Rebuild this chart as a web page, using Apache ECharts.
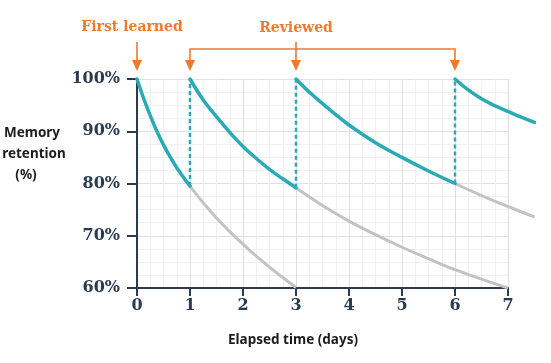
<!DOCTYPE html>
<html><head><meta charset="utf-8">
<script src="https://cdn.jsdelivr.net/npm/echarts@6/dist/echarts.min.js"></script>
<style>html,body{margin:0;padding:0;background:#fff}#c{width:551px;height:363px}</style>
</head><body><div id="c"></div>
<script>
// ---- data ----
const xTicks = [0,1,2,3,4,5,6,7];
const yTicks = [60,70,80,90,100];
const xDataMax = 7.5; // curves run a little past the last tick
// teal retention curves (after learning / each review)
const tealT1 = [0,0.125,0.25,0.375,0.5,0.625,0.75,0.875,1];
const tealV1 = [100,96.3,93.0,90.0,87.4,85.1,83.0,81.2,79.5];
const tealT2 = [1,1.25,1.5,1.75,2,2.25,2.5,2.75,3];
const tealV2 = [100,96.0,92.8,89.8,87.1,84.8,82.7,80.9,79.2];
const tealT3 = [3,3.25,3.5,3.75,4,4.5,5,5.5,6];
const tealV3 = [100,97.5,95.3,93.2,91.2,87.8,85.0,82.4,80.0];
const tealT4 = [6,6.25,6.5,6.75,7,7.25,7.5];
const tealV4 = [100,97.9,96.2,94.9,93.8,92.7,91.7];
// gray curves (forgetting without review)
const grayT1 = [1,1.25,1.5,1.75,2,2.25,2.5,2.75,3];
const grayV1 = [79.5,76.3,73.4,70.8,68.4,66.1,64.0,62.0,60.1];
const grayT2 = [3,3.5,4,4.5,5,5.5,6,6.5,7];
const grayV2 = [79.2,75.8,72.8,70.2,67.8,65.6,63.5,61.7,60.0];
const grayT3 = [6,6.5,7,7.5];
const grayV3 = [80.0,77.7,75.6,73.6];
const firstLearnedDay = 0;
const reviewDays = [1,3,6];

const zip = (t, v) => t.map((x, i) => [x, v[i]]);
const TEAL = '#2aaab5', GRAY = '#c3c3c3', NAVY = '#2b3a4f', ORANGE = '#ef7a2b';

const tealSets = [zip(tealT1,tealV1), zip(tealT2,tealV2), zip(tealT3,tealV3), zip(tealT4,tealV4)];
const graySets = [zip(grayT1,grayV1), zip(grayT2,grayV2), zip(grayT3,grayV3)];

const common = {type:'line', xAxisIndex:1, yAxisIndex:1, symbol:'none', clip:false, silent:true};
const series = [];
graySets.forEach(d => series.push(Object.assign({}, common, {data:d, smooth:0.4, z:2,
  lineStyle:{color:GRAY, width:3}})));
tealSets.forEach(d => series.push(Object.assign({}, common, {data:d, smooth:0.4, z:4,
  lineStyle:{color:TEAL, width:3.5, cap:'round'}})));
reviewDays.forEach((day, i) => {
  const prev = tealSets[i];
  series.push(Object.assign({}, common, {data:[[day, prev[prev.length-1][1]], [day, 100]], z:3,
    lineStyle:{color:TEAL, width:2.5, type:[4,3]}}));
});

const chart = echarts.init(document.getElementById('c'), null, {renderer:'canvas'});
const tickFont = {fontFamily:'DejaVu Serif', fontWeight:'bold', fontSize:16, color:NAVY};
const gLeft = 137, gWidth = 371;
const xMin = xTicks[0], xMax = xTicks[xTicks.length-1];
const dataWidth = gWidth * (xDataMax - xMin) / (xMax - xMin);
chart.setOption({
  animation:false,
  grid:[{left:gLeft, width:gWidth, top:79, bottom:75},
        {left:gLeft, width:dataWidth, top:79, bottom:75}],
  xAxis:[{type:'value', gridIndex:0, min:xMin, max:xMax, interval:1,
    axisLine:{show:true, lineStyle:{color:NAVY, width:2}},
    axisTick:{show:true, length:8, lineStyle:{color:NAVY, width:2}},
    axisLabel:Object.assign({margin:10}, tickFont),
    splitLine:{show:true, lineStyle:{color:'#dde1e7', width:1}},
    minorSplitLine:{show:true, lineStyle:{color:'#eef0f3', width:1}},
    minorTick:{show:false, splitNumber:4}},
    {type:'value', gridIndex:1, min:xMin, max:xDataMax, show:false}],
  yAxis:[{type:'value', gridIndex:0, min:yTicks[0], max:yTicks[yTicks.length-1], interval:10,
    axisLine:{show:true, lineStyle:{color:NAVY, width:2}},
    axisTick:{show:true, length:10, lineStyle:{color:NAVY, width:2}},
    axisLabel:Object.assign({margin:17, formatter:'{value}%'}, tickFont),
    splitLine:{show:true, lineStyle:{color:'#dde1e7', width:1}},
    minorSplitLine:{show:true, lineStyle:{color:'#eef0f3', width:1}},
    minorTick:{show:false, splitNumber:4}},
    {type:'value', gridIndex:1, min:yTicks[0], max:yTicks[yTicks.length-1], show:false}],
  series: series
});

const px = d => chart.convertToPixel({xAxisIndex:0}, d);
const tipY = 71, headH = 11, headW = 5, topY = 42, brY = 49;
function head(x){ return {type:'polygon', shape:{points:[[x-headW,tipY-headH],[x+headW,tipY-headH],[x,tipY]]}, style:{fill:ORANGE}, z:10}; }
const x0 = px(firstLearnedDay), xr = reviewDays.map(px);
const lineStyle = {stroke:ORANGE, lineWidth:1.6, fill:null};
const orangeText = {fontFamily:'DejaVu Serif', fontWeight:'bold', fontSize:14, fill:ORANGE, align:'center', verticalAlign:'middle'};
const sansLabel = {fontFamily:'Noto Sans', fontWeight:'bold', fontSize:13.5, fill:'#1c1c1c', align:'center', verticalAlign:'middle'};
chart.setOption({graphic:[
  {type:'text', x:x0-5, y:27, style:Object.assign({text:'First learned'}, orangeText), z:10},
  {type:'line', shape:{x1:x0, y1:topY, x2:x0, y2:tipY-headH+1}, style:lineStyle, z:10},
  head(x0),
  {type:'text', x:xr[1], y:28, style:Object.assign({text:'Reviewed'}, orangeText), z:10},
  {type:'polyline', shape:{points:[[xr[0],tipY-headH+1],[xr[0],brY],[xr[2],brY],[xr[2],tipY-headH+1]]}, style:lineStyle, z:10},
  {type:'line', shape:{x1:xr[1], y1:topY, x2:xr[1], y2:tipY-headH+1}, style:lineStyle, z:10},
  head(xr[0]), head(xr[1]), head(xr[2]),
  {type:'text', x:32, y:133, style:Object.assign({text:'Memory'}, sansLabel)},
  {type:'text', x:34, y:154, style:Object.assign({text:'retention'}, sansLabel)},
  {type:'text', x:26, y:175, style:Object.assign({text:'(%)'}, sansLabel)},
  {type:'text', x:293, y:340, style:Object.assign({text:'Elapsed time (days)'}, sansLabel)}
]});
</script></body></html>
